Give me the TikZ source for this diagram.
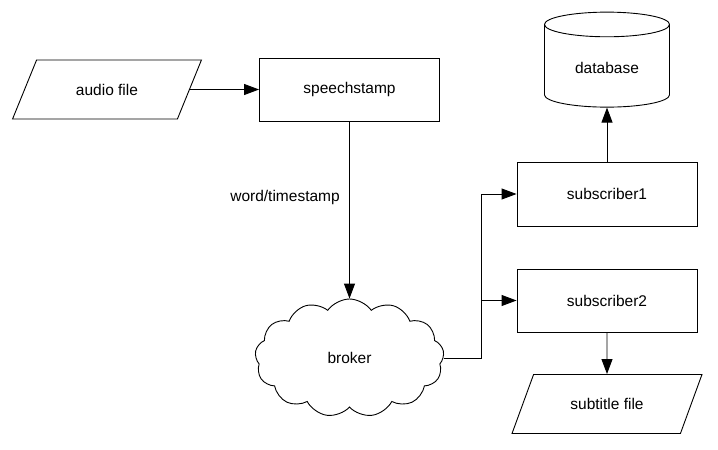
\documentclass[tikz,border=0pt]{standalone}
\usepackage{fontspec}
\setmainfont{Liberation Sans}
\usetikzlibrary{arrows.meta,shapes}

\begin{document}
\begin{tikzpicture}[x=1pt,y=-1pt,>={Triangle[length=15pt,width=11pt]},line width=0.9pt,
    font=\fontsize{15.5}{18}\selectfont]
  \tikzstyle{block}=[rectangle,draw,minimum width=180pt,minimum height=63pt]
  \tikzstyle{io}=[trapezium,trapezium left angle=57,trapezium right angle=123,
              trapezium stretches=true,draw,minimum width=190pt,minimum height=59pt]
  \tikzstyle{store}=[cylinder,shape border rotate=90,aspect=0.35,draw,
              minimum width=125pt,minimum height=95pt]
  \tikzstyle{net}=[cloud,cloud puffs=13,cloud puff arc=110,aspect=1.6,draw,
              minimum width=189pt,minimum height=118pt]
  \useasboundingbox (0,0) rectangle (718,450);
    \node [io] (audio) at (107,89.5) {audio file};
    \node [block] (speech) [node distance=242.5pt,right of=audio] {speechstamp};
    \node [net] (broker) [node distance=268.5pt,below of=speech] {broker};
    \node [block,minimum height=64pt] (sub1) at (607,194) {subscriber1};
    \node [block] (sub2) [node distance=106.5pt,below of=sub1] {subscriber2};
    \node [store] (db) [node distance=126pt,above of=sub1] {database};
    \node [io] (subtitle) [node distance=103.5pt,below of=sub2] {subtitle file};
    \coordinate (fork) at ([xshift=-35.5pt]sub2.west);
    % connectors
    \draw [->] (audio.east) -- (speech.west);
    \draw [->] (speech.south) -- node [pos=0.43,left=6pt] {word/timestamp} (broker.north);
    \draw [->] (broker.east) -| (fork |- sub1.west) -- (sub1.west);
    \draw [->] (fork) -- (sub2.west);
    \draw [->] (sub1.north) -- (db.south);
    \draw [->] (sub2.south) -- (subtitle.north);
\end{tikzpicture}
\end{document}
